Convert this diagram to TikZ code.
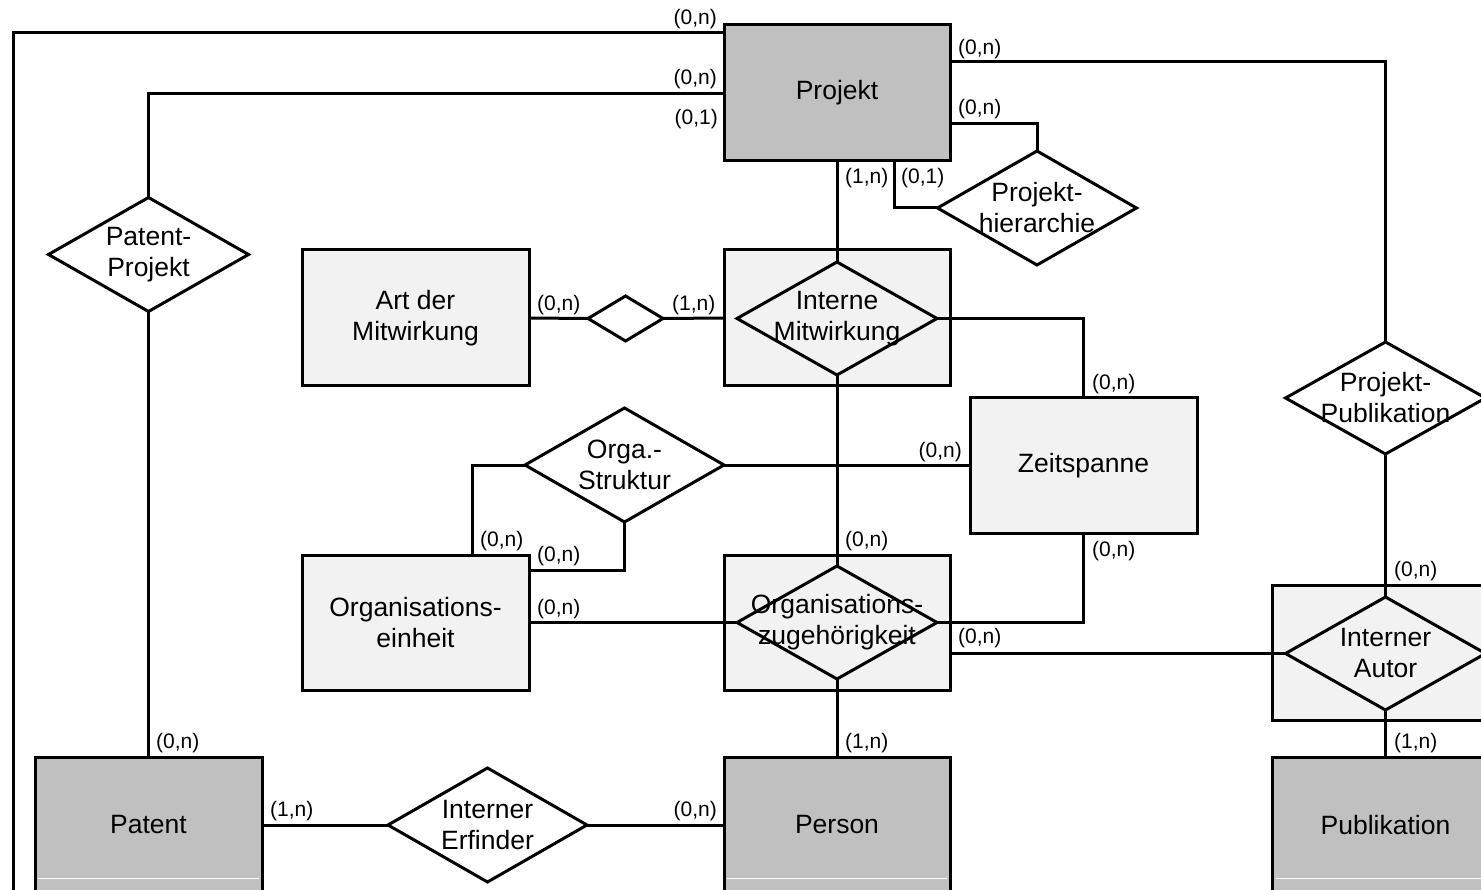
\documentclass[tikz,border=0pt]{standalone}
\usepackage{fontspec}
\setmainfont{Liberation Sans}
\usetikzlibrary{shapes.geometric}
\definecolor{entgray}{HTML}{C0C0C0}
\definecolor{relgray}{HTML}{F2F2F2}
\newcommand\erTxt{\fontsize{26.5}{31}\selectfont}
\newcommand\erCard{\fontsize{21}{24}\selectfont}
\begin{document}
\begin{tikzpicture}[x=1pt,y=-1pt,
  box/.style={rectangle, draw, line width=3pt, outer sep=0pt, inner sep=0pt,
              align=center, font=\erTxt},
  entity/.style={box, fill=entgray},
  weak/.style={box, fill=relgray},
  rel/.style={diamond, draw, line width=3pt, outer sep=0pt, inner sep=0pt,
              minimum width=200pt, minimum height=114pt},
  relw/.style={rel, fill=white},
  rtxt/.style={font=\erTxt, align=center, inner sep=0pt},
  card/.style={font=\erCard, inner sep=0pt},
  conn/.style={line width=3pt}]
\useasboundingbox (0,0) rectangle (1481,890);
\clip (0,0) rectangle (1481,890);

% helper levels for the orthogonal connectors
\coordinate (yOuter) at (0,33);
\coordinate (yPP) at (0,94);
\coordinate (yPub) at (0,62);
\coordinate (yPH) at (0,124);
\coordinate (xPH) at (894,0);
\coordinate (xOE) at (472,0);
\coordinate (yOS) at (0,570);
\coordinate (ySep) at (0,878);
\coordinate (outerEnd) at (13.5,900);

% entity types
\node[entity, minimum width=226pt, minimum height=136pt] (proj) at (837,93) {Projekt};
\node[entity, minimum width=227pt, minimum height=136pt] (pat) at (148.5,825) {Patent};
\node[entity, minimum width=226pt, minimum height=136pt] (pers) at (837,825) {Person};
\node[entity, minimum width=226pt, minimum height=136pt] (pub) at (1385.5,825) {Publikation};

\node[weak, minimum width=227pt, minimum height=136pt] (artm) at (415.5,318) {Art der\\Mitwirkung};
\node[weak, minimum width=226pt, minimum height=136pt] (imbox) at (837,318) {};
\node[weak, minimum width=227pt, minimum height=135pt] (zeit) at (1083.5,465.5) {Zeitspanne};
\node[weak, minimum width=227pt, minimum height=135pt] (oe) at (415.5,622.5) {Organisations-\\einheit};
\node[weak, minimum width=226pt, minimum height=135pt] (ozbox) at (837,622.5) {};
\node[weak, minimum width=226pt, minimum height=135pt] (iabox) at (1385.5,652.5) {};

% relationship types
\node[relw, label={[rtxt]center:{Patent-\\Projekt}}] (dpp) at (148.5,254.5) {};
\node[relw, minimum width=199pt, label={[rtxt]center:{Projekt-\\hierarchie}}] (dph) at (1037,208) {};
\node[rel, minimum height=113pt, label={[rtxt]center:{Interne\\Mitwirkung}}] (imd) at (837,318.5) {};
\node[relw, minimum width=75pt, minimum height=45pt] (dsmall) at (625.5,318.5) {};
\node[relw, minimum width=199pt, label={[rtxt]center:{Orga.-\\Struktur}}] (dos) at (624.5,465) {};
\node[rel, minimum height=113pt, label={[rtxt]center:{Organisations-\\zugehörigkeit}}] (ozd) at (837,622.5) {};
\node[relw, minimum height=112pt, label={[rtxt]center:{Projekt-\\Publikation}}] (dpub) at (1385.5,398) {};
\node[rel, minimum height=113pt, label={[rtxt]center:{Interner\\Autor}}] (iad) at (1385.5,653.5) {};
\node[relw, minimum width=199pt, label={[rtxt]center:{Interner\\Erfinder}}] (die) at (487.5,825) {};

% separators of the entity boxes
\foreach \e in {pat,pers,pub}
  \draw[white, line width=1pt] ([xshift=3pt]\e.west |- ySep) -- ([xshift=-3pt]\e.east |- ySep);

% connectors
\draw[conn] (proj.west |- yOuter) -| (outerEnd);
\draw[conn] (proj.west |- yPP) -| (dpp.north);
\draw[conn] (proj.east |- yPub) -| (dpub.north);
\draw[conn] (proj.east |- yPH) -| (dph.north);
\draw[conn] (proj.south -| xPH) |- (dph.west);
\draw[conn] (proj.south) -- (imd.north);
\draw[conn] (artm.east) -- (dsmall.west);
\draw[conn] (dsmall.east) -- (imbox.west);
\draw[conn] (imd.east) -| (zeit.north);
\draw[conn] (imd.south) -- (ozd.north);
\draw[conn] (dos.east) -- (dos.east -| zeit.west);
\draw[conn] (dos.west) -| (oe.north -| xOE);
\draw[conn] (dos.south) |- (oe.east |- yOS);
\draw[conn] (oe.east) -- (ozd.west);
\draw[conn] (zeit.south) |- (ozd.east);
\draw[conn] (ozbox.east |- iad.west) -- (iad.west);
\draw[conn] (dpub.south) -- (iad.north);
\draw[conn] (iad.south) -- (pub.north);
\draw[conn] (ozd.south) -- (pers.north);
\draw[conn] (dpp.south) -- (pat.north);
\draw[conn] (pat.east |- die.west) -- (die.west);
\draw[conn] (die.east) -- (pers.west |- die.east);

% cardinalities
\node[card, anchor=east] (c1) at (717,19) {(0,n)};
\node[card, anchor=east] (c2) at (717,79) {(0,n)};
\node[card, anchor=east] (c3) at (718,119) {(0,1)};
\node[card, anchor=west] (c4) at (958,49) {(0,n)};
\node[card, anchor=west] (c5) at (958,109) {(0,n)};
\node[card, anchor=west] (c6) at (845,178) {(1,n)};
\node[card, anchor=west] (c7) at (901,178) {(0,1)};
\node[card, anchor=west] (c8) at (537,305) {(0,n)};
\node[card, anchor=west] (c9) at (672,305) {(1,n)};
\node[card, anchor=west] (c10) at (1092,384) {(0,n)};
\node[card, anchor=east] (c11) at (962,452) {(0,n)};
\node[card, anchor=west] (c12) at (480,541) {(0,n)};
\node[card, anchor=west] (c13) at (537,556) {(0,n)};
\node[card, anchor=west] (c14) at (845,541) {(0,n)};
\node[card, anchor=west] (c15) at (1092,551) {(0,n)};
\node[card, anchor=west] (c16) at (537,609) {(0,n)};
\node[card, anchor=west] (c17) at (958,638) {(0,n)};
\node[card, anchor=west] (c18) at (1394,571) {(0,n)};
\node[card, anchor=west] (c19) at (1394,743) {(1,n)};
\node[card, anchor=west] (c20) at (845,743) {(1,n)};
\node[card, anchor=west] (c21) at (156,743) {(0,n)};
\node[card, anchor=west] (c22) at (270,811) {(1,n)};
\node[card, anchor=east] (c23) at (717,811) {(0,n)};
\end{tikzpicture}
\end{document}
